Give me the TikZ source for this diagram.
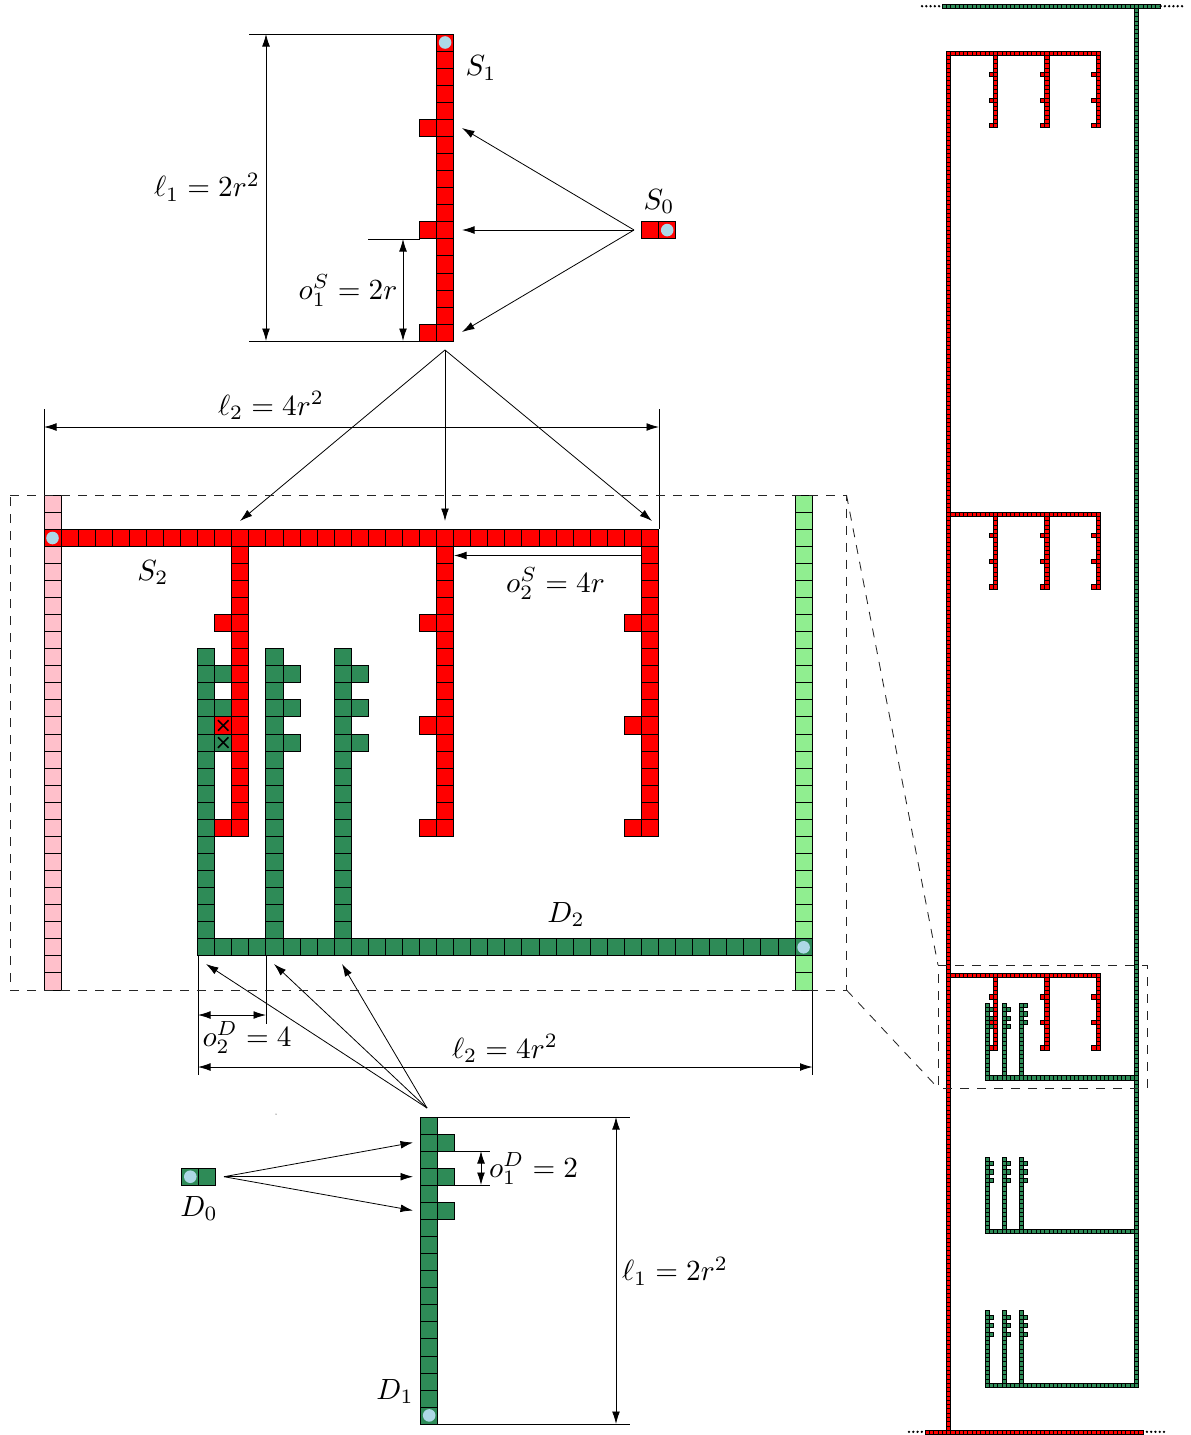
\documentclass[tikz,border=0pt]{standalone}
\usetikzlibrary{arrows.meta}
\definecolor{sred}{HTML}{FF0000}
\definecolor{dgreen}{HTML}{2E8B57}
\definecolor{spink}{HTML}{FFC0CB}
\definecolor{lgreen}{HTML}{90EE90}
\definecolor{lblue}{HTML}{ADD8E6}
\newcommand{\UU}{17.07}
\newcommand{\VV}{4.27}
% big cell: colour, px x, px y of top-left
\newcommand{\bcell}[3]{\draw[bigcell,fill=#1] (#2,#3) rectangle ++(\UU,\UU);}
% grid cell of the central part: colour, col, row
\newcommand{\gcell}[3]{\draw[bigcell,fill=#1] ({44+(#2)*\UU},{495+(#3)*\UU}) rectangle ++(\UU,\UU);}
% mini cell: colour, col, row
\newcommand{\mcell}[3]{\draw[minicell,fill=#1] ({946.5+(#2)*\VV},{51+(#3)*\VV}) rectangle ++(\VV,\VV);}
% mini S gadget at row r
\newcommand{\miniS}[1]{%
  \foreach \i in {0,...,35} {\mcell{sred}{\i}{#1}}
  \foreach \c in {11,23,35} {%
    \foreach \k in {1,...,17} {\mcell{sred}{\c}{#1+\k}}
    \foreach \k in {5,11,17} {\mcell{sred}{\c-1}{#1+\k}}
  }}
% mini D gadget at row r; #2 = tooth offset of the third branch
\newcommand{\miniD}[2]{%
  \foreach \i in {9,...,44} {\mcell{dgreen}{\i}{#1}}
  \foreach \c in {9,13,17} {%
    \foreach \k in {1,...,17} {\mcell{dgreen}{\c}{#1-\k}}
  }
  \foreach \c in {9,13} {%
    \foreach \k in {12,14,16} {\mcell{dgreen}{\c+1}{#1-\k}}
  }
  \foreach \k in {12,14,16} {\mcell{dgreen}{18}{#1-\k-#2}}
  }
\tikzset{
  x=1pt,y=-1pt,
  bigcell/.style={draw=black,line width=0.95pt},
  minicell/.style={draw=black,line width=0.85pt},
  dim/.style={draw=black,line width=0.8pt},
  arr/.style={draw=black,line width=0.8pt,-{Latex[length=12.5pt,width=7.8pt]}},
  dimarr/.style={draw=black,line width=0.8pt,{Latex[length=12.5pt,width=7.8pt]}-{Latex[length=12.5pt,width=7.8pt]}},
  zoomline/.style={draw=black!85,line width=0.85pt,dash pattern=on 9pt off 8pt},
  dotline/.style={draw=black,line width=2.6pt,line cap=round,dash pattern=on 0pt off 4.27pt},
  lab/.style={scale=2.92,inner sep=0pt},
  source/.style={fill=lblue,draw=none},
}
\begin{document}
\begin{tikzpicture}
\useasboundingbox (0,0) rectangle (1191,1435);

% ---------- S1 gadget
\foreach \k in {0,...,17} {\bcell{sred}{436.6}{34+\k*\UU}}
\foreach \k in {5,11,17} {\bcell{sred}{419.5}{34+\k*\UU}}
\fill[source] (445.1,42.5) circle (6.3);
% S0
\bcell{sred}{641.6}{221.6}
\bcell{sred}{658.7}{221.6}
\fill[source] (667.2,230.1) circle (6.3);

% ---------- central part
\foreach \r in {0,...,28} {\gcell{spink}{0}{\r}}
\foreach \r in {0,...,28} {\gcell{lgreen}{44}{\r}}
% D2 and comb
\foreach \i in {9,...,44} {\gcell{dgreen}{\i}{26}}
\foreach \c in {9,13,17} {
  \foreach \r in {9,...,25} {\gcell{dgreen}{\c}{\r}}
  \foreach \r in {10,12,14} {\gcell{dgreen}{\c+1}{\r}}
}
% S2 and comb
\foreach \i in {0,...,35} {\gcell{sred}{\i}{2}}
\foreach \c in {11,23,35} {
  \foreach \r in {3,...,19} {\gcell{sred}{\c}{\r}}
  \foreach \r in {7,13,19} {\gcell{sred}{\c-1}{\r}}
}
\fill[source] (52.5,538) circle (6.3);
\fill[source] (803.6,947.3) circle (6.3);
% crossings
\foreach \r in {13,14} {
  \draw[black,line width=1.6pt] ({44+10*\UU+3.3},{495+\r*\UU+3.3}) -- ++(10.5,10.5) ({44+10*\UU+13.8},{495+\r*\UU+3.3}) -- ++(-10.5,10.5);
}

% ---------- D1 gadget
\foreach \k in {0,...,17} {\bcell{dgreen}{420.7}{1117+\k*\UU}}
\foreach \k in {1,3,5} {\bcell{dgreen}{437.8}{1117+\k*\UU}}
\fill[source] (429.2,1415.4) circle (6.3);
% D0
\bcell{dgreen}{181.8}{1168.2}
\bcell{dgreen}{198.9}{1168.2}
\fill[source] (190.3,1176.7) circle (6.3);

% ---------- named ends of the connectors
\coordinate (s1tl) at (249,34);   \coordinate (s1tr) at (437,34);
\coordinate (s1bl) at (249,341);  \coordinate (s1br) at (420,341);
\coordinate (s1ml) at (368,239);  \coordinate (s1mr) at (420,239);
\coordinate (l1a) at (266,34);    \coordinate (l1b) at (266,341);
\coordinate (o1a) at (403,239);   \coordinate (o1b) at (403,341);
\coordinate (s0src) at (634,230);
\coordinate (s1t1) at (462,128);  \coordinate (s1t2) at (462,230); \coordinate (s1t3) at (462,332);
\coordinate (s1src) at (445,350);
\coordinate (s2t1) at (240,521);  \coordinate (s2t2) at (445,521); \coordinate (s2t3) at (652,521);
\coordinate (e1a) at (44,409);    \coordinate (e1b) at (44,495);
\coordinate (e2a) at (659,409);   \coordinate (e2b) at (659,529);
\coordinate (l2a) at (44,427);    \coordinate (l2b) at (659,427);
\coordinate (o2a) at (641.5,555.5); \coordinate (o2b) at (454,555.5);
\coordinate (e3a) at (198,956);   \coordinate (e3b) at (198,1075);
\coordinate (e4a) at (266,956);   \coordinate (e4b) at (266,1024);
\coordinate (e5a) at (812.5,956); \coordinate (e5b) at (812.5,1075);
\coordinate (o3a) at (198,1015);  \coordinate (o3b) at (266,1015);
\coordinate (l3a) at (198,1067);  \coordinate (l3b) at (812.5,1067);
\coordinate (d1src) at (427,1108);
\coordinate (d2t1) at (206,964);  \coordinate (d2t2) at (274,964); \coordinate (d2t3) at (342,964);
\coordinate (d0src) at (224,1176.7);
\coordinate (d1t1) at (413,1142.5); \coordinate (d1t2) at (413,1176.7); \coordinate (d1t3) at (413,1210.5);
\coordinate (d1tl) at (438,1117); \coordinate (d1tr) at (630,1117);
\coordinate (d1bl) at (438,1424); \coordinate (d1br) at (630,1424);
\coordinate (l4a) at (616,1117);  \coordinate (l4b) at (616,1424);
\coordinate (d1ml) at (455,1151); \coordinate (d1mr) at (490,1151);
\coordinate (d1nl) at (455,1185); \coordinate (d1nr) at (490,1185);
\coordinate (o4a) at (481,1151);  \coordinate (o4b) at (481,1185);

% ---------- dimension lines
\draw[dim] (s1tl) -- (s1tr);
\draw[dim] (s1bl) -- (s1br);
\draw[dim] (s1ml) -- (s1mr);
\draw[dimarr] (l1a) -- (l1b);
\draw[dimarr] (o1a) -- (o1b);
\draw[dim] (e1a) -- (e1b);
\draw[dim] (e2a) -- (e2b);
\draw[dimarr] (l2a) -- (l2b);
\draw[arr] (o2a) -- (o2b);
\draw[dim] (e3a) -- (e3b);
\draw[dim] (e4a) -- (e4b);
\draw[dim] (e5a) -- (e5b);
\draw[dimarr] (o3a) -- (o3b);
\draw[dimarr] (l3a) -- (l3b);
\draw[dim] (d1tl) -- (d1tr);
\draw[dim] (d1bl) -- (d1br);
\draw[dimarr] (l4a) -- (l4b);
\draw[dim] (d1ml) -- (d1mr);
\draw[dim] (d1nl) -- (d1nr);
\draw[dimarr] (o4a) -- (o4b);

% ---------- arrows
\foreach \t in {s1t1,s1t2,s1t3} {\draw[arr] (s0src) -- (\t);}
\foreach \t in {s2t1,s2t2,s2t3} {\draw[arr] (s1src) -- (\t);}
\foreach \t in {d2t1,d2t2,d2t3} {\draw[arr] (d1src) -- (\t);}
\foreach \t in {d1t1,d1t2,d1t3} {\draw[arr] (d0src) -- (\t);}
\fill[black] (276,1114) circle (0.5);

% ---------- labels
\node[lab] (lS1) at (481,68) {$S_1$};
\node[lab] (lS0) at (659,201.5) {$S_0$};
\node[lab] (lS2) at (153,572.5) {$S_2$};
\node[lab] (lD2) at (566,914.5) {$D_2$};
\node[lab] (lD1) at (395,1391.5) {$D_1$};
\node[lab] (lD0) at (199,1208.5) {$D_0$};
\node[lab] (ll1) at (207,187) {$\ell_1=2r^2$};
\node[lab] (lo1) at (348,290.5) {$o_1^S=2r$};
\node[lab] (ll2) at (271,405.5) {$\ell_2=4r^2$};
\node[lab] (lo2) at (555.5,583.5) {$o_2^S=4r$};
\node[lab] (lo3) at (247,1037.5) {$o_2^D=4$};
\node[lab] (ll3) at (505,1048.5) {$\ell_2=4r^2$};
\node[lab] (lo4) at (533.5,1168.5) {$o_1^D=2$};
\node[lab] (ll4) at (675,1271) {$\ell_1=2r^2$};

% ---------- overview on the right
\foreach \i in {-1,...,49} {\mcell{dgreen}{\i}{-11}}
\foreach \k in {-10,...,312} {\mcell{dgreen}{44}{\k}}
\foreach \k in {0,...,322} {\mcell{sred}{0}{\k}}
\foreach \i in {-5,...,45} {\mcell{sred}{\i}{323}}
\miniD{240}{1}
\miniD{276}{0}
\miniD{312}{0}
\miniS{0}
\miniS{108}
\miniS{216}

\coordinate (dA) at (922,6.2);   \coordinate (dB) at (942,6.2);
\coordinate (dC) at (1160.5,6.2);\coordinate (dD) at (1182,6.2);
\coordinate (dE) at (909,1431.8);\coordinate (dF) at (925,1431.8);
\coordinate (dG) at (1143.5,1431.8);\coordinate (dH) at (1164,1431.8);
\draw[dotline] (dA) -- (dB);
\draw[dotline] (dD) -- (dC);
\draw[dotline] (dE) -- (dF);
\draw[dotline] (dH) -- (dG);

% ---------- zoom frames
\coordinate (zA) at (10,495);   \coordinate (zB) at (846.5,495);
\coordinate (zC) at (846.5,990);\coordinate (zD) at (10,990);
\coordinate (zE) at (938,965);  \coordinate (zF) at (1147,965);
\coordinate (zG) at (1147,1088);\coordinate (zH) at (938,1088);
\draw[zoomline] (zA) -- (zB) -- (zC) -- (zD) -- cycle;
\draw[zoomline] (zE) -- (zF) -- (zG) -- (zH) -- cycle;
\draw[zoomline] (zB) -- (zE);
\draw[zoomline] (zC) -- (zH);
\end{tikzpicture}
\end{document}
